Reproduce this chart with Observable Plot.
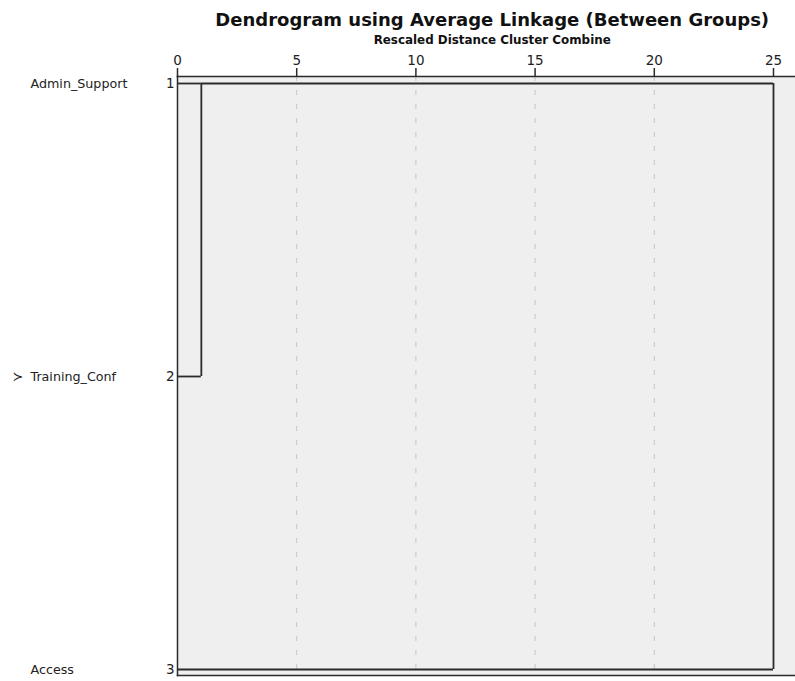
<!DOCTYPE html>
<html>
<head>
<meta charset="utf-8">
<script src="https://cdn.jsdelivr.net/npm/d3@7"></script>
<script src="https://cdn.jsdelivr.net/npm/@observablehq/plot@0.6"></script>
<style>
  html, body { margin: 0; padding: 0; background: #fff; }
  #chart svg { display: block; }
</style>
</head>
<body>
<div id="chart"></div>
<script>
// Cases in dendrogram order, with their case numbers
const items = ["Admin_Support", "Training_Conf", "Access"];
const caseIds = [1, 2, 3];
// Cases flagged with the marker glyph in the label column
const flagged = ["Training_Conf"];

// Agglomeration schedule: cluster at row a absorbs cluster at row b
const mergeA = [1, 1];
const mergeB = [2, 3];
const mergeDist = [1, 25];

// Rescaled distance axis
const distTicks = [0, 5, 10, 15, 20, 25];
const gridTicks = [5, 10, 15, 20];

const titleText = "Dendrogram using Average Linkage (Between Groups)";
const subtitleText = "Rescaled Distance Cluster Combine";

// Build the elbow segments from the schedule: each cluster keeps its row
// and the distance at which it was last formed.
const joinedAt = new Map(caseIds.map(id => [id, 0]));
const hSegs = [];
const vSegs = [];
mergeA.forEach((a, i) => {
  const b = mergeB[i], d = mergeDist[i];
  hSegs.push({x1: joinedAt.get(a), x2: d, y: a});
  hSegs.push({x1: joinedAt.get(b), x2: d, y: b});
  vSegs.push({x: d, y1: a, y2: b});
  joinedAt.set(a, d);
});

const rows = items.map((name, i) => ({name, id: caseIds[i], flag: flagged.includes(name)}));

const W = 795, H = 681;
const font = "'DejaVu Sans', sans-serif";

const chart = Plot.plot({
  width: W,
  height: H,
  marginLeft: 177,
  marginRight: 0,
  marginTop: 76,
  marginBottom: 6,
  style: {fontFamily: font, fontSize: "13.5px", color: "#222", background: "#fff", overflow: "visible"},
  x: {domain: [0, 25], range: [177, 773]},
  y: {domain: [1, 3], range: [83, 669]},
  marks: [
    Plot.frame({fill: "#efefef", stroke: null}),
    Plot.ruleX(gridTicks, {stroke: "#c4c4c4", strokeWidth: 1, strokeDasharray: "5,9"}),
    // top, left and bottom edges of the plotting region
    Plot.frame({anchor: "top", stroke: "#2a2a2a", strokeWidth: 1.5}),
    Plot.frame({anchor: "left", stroke: "#2a2a2a", strokeWidth: 1.5}),
    Plot.frame({anchor: "bottom", stroke: "#2a2a2a", strokeWidth: 1.5}),
    Plot.axisX(distTicks, {anchor: "top", tickSize: 9, tickPadding: 3, stroke: "#2a2a2a", strokeWidth: 1.5, fill: "#222", label: null}),
    Plot.axisY(caseIds, {anchor: "left", tickSize: 0, tickPadding: 3, tickFormat: d3.format("d"), fill: "#222", label: null}),
    // case labels
    Plot.text(rows, {y: "id", text: "name", frameAnchor: "left", dx: -147, textAnchor: "start", fontSize: 12.7, fill: "#222"}),
    Plot.text(rows.filter(r => r.flag), {y: "id", text: () => "≻", frameAnchor: "left", dx: -165, textAnchor: "start", fontSize: 13, fill: "#222"}),
    // dendrogram elbows
    Plot.ruleY(hSegs, {y: "y", x1: "x1", x2: "x2", stroke: "#2b2b2b", strokeWidth: 1.8}),
    Plot.ruleX(vSegs, {x: "x", y1: "y1", y2: "y2", stroke: "#2b2b2b", strokeWidth: 1.8}),
    // titles
    Plot.text([titleText], {text: d => d, x: 13.2, frameAnchor: "top", dy: -51, lineAnchor: "bottom", fontSize: 18, fontWeight: "bold", fill: "#111"}),
    Plot.text([subtitleText], {text: d => d, x: 13.2, frameAnchor: "top", dy: -33, lineAnchor: "bottom", fontSize: 11.9, fontWeight: "bold", fill: "#111"})
  ]
});

document.getElementById("chart").appendChild(chart);
</script>
</body>
</html>
